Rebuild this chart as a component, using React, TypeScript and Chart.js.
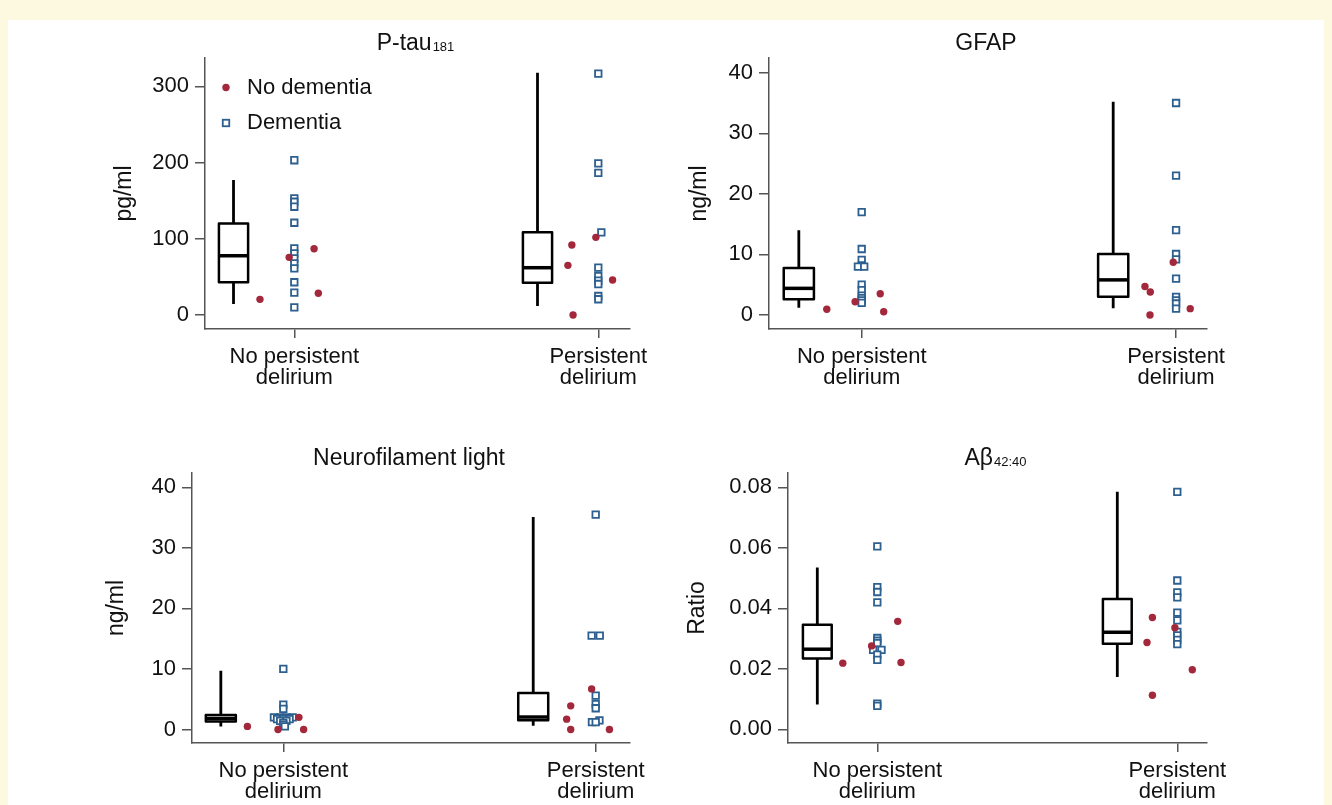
import React, { useEffect, useRef } from "react";
import { Chart, registerables } from "chart.js";

Chart.register(...registerables);

const FONT = '"Liberation Sans", Arial, Helvetica, sans-serif';
const RED = "#a3283b";
const BLUE = "#2d5f8f";
const AXIS = "#555555";
const TEXT = "#111111";

// ---------- shared labels ----------
const xCategoryLabels = [["No persistent", "delirium"], ["Persistent", "delirium"]];
const legendLabels = ["No dementia", "Dementia"];

// ---------- P-tau181 ----------
const ptauTitle = "P-tau";
const ptauSub = "181";
const ptauUnit = "pg/ml";
const ptauTicks = [0, 100, 200, 300];
// [whisker low, Q1, median, Q3, whisker high]
const ptauBoxNoPers = [14.4, 42.8, 77.7, 120, 177];
const ptauBoxPers = [11.8, 42.4, 62, 108.4, 317.6];
const ptauRedNoPers = [20.5, 75.6, 86.9, 28.4];
const ptauRedNoPersJit = [-0.113, -0.017, 0.065, 0.079];
const ptauRedPers = [91.7, 65.1, 101.8, 45.9, 0];
const ptauRedPersJit = [-0.087, -0.1, -0.008, 0.047, -0.083];
const ptauBlueNoPers = [203, 153, 148.5, 142, 121, 87.4, 80.9, 74.3, 67.8, 61.2, 42.9, 29.2, 10.0];
const ptauBlueNoPersJit = [0, 0, 0, 0, 0, 0, 0, 0, 0, 0, 0, 0, 0];
const ptauBluePers = [316.7, 198.8, 186.5, 108.4, 62, 51.1, 45, 40.6, 24.9, 20.6];
const ptauBluePersJit = [0, 0, 0, 0.01, 0, 0, 0, 0, 0, 0];

// ---------- GFAP ----------
const gfapTitle = "GFAP";
const gfapSub = "";
const gfapUnit = "ng/ml";
const gfapTicks = [0, 10, 20, 30, 40];
const gfapBoxNoPers = [1.2, 2.6, 4.4, 7.76, 14.0];
const gfapBoxPers = [1.1, 3.0, 5.8, 10.07, 35.2];
const gfapRedNoPers = [0.94, 2.2, 3.5, 0.55];
const gfapRedNoPersJit = [-0.111, -0.021, 0.059, 0.07];
const gfapRedPers = [4.7, 3.8, 0, 8.7, 1.05];
const gfapRedPersJit = [-0.099, -0.082, -0.083, -0.009, 0.045];
const gfapBlueNoPers = [17.0, 10.9, 9.1, 8.2, 8.0, 8.0, 5.0, 4.1, 3.2, 2.8, 2.4, 2.0];
const gfapBlueNoPersJit = [0, 0, 0, 0, -0.012, 0.008, 0, 0, 0, 0, 0, 0];
const gfapBluePers = [35.0, 23.0, 14.0, 10.07, 9.2, 6.0, 3.0, 2.4, 1.9, 1.05];
const gfapBluePersJit = [0, 0, 0, 0, 0, 0, 0, 0, 0, 0];

// ---------- Neurofilament light ----------
const nflTitle = "Neurofilament light";
const nflSub = "";
const nflUnit = "ng/ml";
const nflTicks = [0, 10, 20, 30, 40];
const nflBoxNoPers = [0.5, 1.3, 1.8, 2.4, 9.7];
const nflBoxPers = [0.6, 1.5, 2.05, 6.0, 35.1];
const nflRedNoPers = [0.5, 0, 2.0, 0];
const nflRedNoPersJit = [-0.115, -0.017, 0.05, 0.065];
const nflRedPers = [3.9, 1.7, 0, 6.7, 0];
const nflRedPersJit = [-0.08, -0.093, -0.08, -0.013, 0.044];
const nflBlueNoPers = [10.0, 4.1, 3.4, 2.0, 2.0, 2.0, 2.0, 1.7, 1.7, 1.7, 1.4, 1.4, 1.1, 0.8, 0.5];
const nflBlueNoPersJit = [0, 0, 0, -0.03, -0.01, 0.01, 0.03, -0.02, 0, 0.02, -0.01, 0.01, 0, 0, 0.005];
const nflBluePers = [35.5, 15.5, 15.5, 5.6, 4.2, 3.5, 1.5, 1.2, 1.2];
const nflBluePersJit = [0, -0.013, 0.013, 0, 0, 0, 0.012, -0.012, 0];

// ---------- Abeta 42:40 ----------
const abTitle = "A\u03b2";
const abSub = "42:40";
const abUnit = "Ratio";
const abTicks = [0, 0.02, 0.04, 0.06, 0.08];
const abBoxNoPers = [0.0082, 0.0234, 0.0265, 0.0346, 0.0535];
const abBoxPers = [0.0173, 0.0283, 0.0321, 0.0431, 0.0785];
const abRedNoPers = [0.0219, 0.0276, 0.0357, 0.0221];
const abRedNoPersJit = [-0.115, -0.019, 0.068, 0.079];
const abRedPers = [0.037, 0.0287, 0.0113, 0.0336, 0.0197];
const abRedPersJit = [-0.083, -0.101, -0.083, -0.008, 0.05];
const abBlueNoPers = [0.0605, 0.047, 0.0454, 0.042, 0.0302, 0.0293, 0.0285, 0.0263, 0.0263, 0.0247, 0.023, 0.0085, 0.0078];
const abBlueNoPersJit = [0, 0, 0, 0, 0, 0, 0, -0.014, 0.014, 0, 0, 0, 0];
const abBluePers = [0.0785, 0.0492, 0.0453, 0.0436, 0.0386, 0.036, 0.0322, 0.0311, 0.0296, 0.0282];
const abBluePersJit = [0, 0, 0, 0, 0, 0, 0, 0, 0, 0];

// ---------- layout constants ----------
const AXIS_W = 110;
const PAD_T = 50;
const PAD_R = 60;
const XAXIS_H = 70;
const BOX_OFFSET = -0.2;
const BOX_HALF = 0.048;

type PanelData = {
  title: string;
  sub: string;
  unit: string;
  ticks: number[];
  decimals: number;
  boxes: number[][];
  red: number[][];
  redJit: number[][];
  blue: number[][];
  blueJit: number[][];
  legend: boolean;
};

type PanelGeom = {
  L: number; T: number; R: number; B: number;
  xMin: number; xMax: number; yMin: number; yMax: number;
  yTitleX: number;
};

const panels: { d: PanelData; g: PanelGeom }[] = [
  {
    d: {
      title: ptauTitle, sub: ptauSub, unit: ptauUnit, ticks: ptauTicks, decimals: 0,
      boxes: [ptauBoxNoPers, ptauBoxPers],
      red: [ptauRedNoPers, ptauRedPers], redJit: [ptauRedNoPersJit, ptauRedPersJit],
      blue: [ptauBlueNoPers, ptauBluePers], blueJit: [ptauBlueNoPersJit, ptauBluePersJit],
      legend: true,
    },
    g: { L: 205, T: 58, R: 630, B: 329, xMin: -0.2938, xMax: 1.1043, yMin: -18.4, yMax: 337.1, yTitleX: 125 },
  },
  {
    d: {
      title: gfapTitle, sub: gfapSub, unit: gfapUnit, ticks: gfapTicks, decimals: 0,
      boxes: [gfapBoxNoPers, gfapBoxPers],
      red: [gfapRedNoPers, gfapRedPers], redJit: [gfapRedNoPersJit, gfapRedPersJit],
      blue: [gfapBlueNoPers, gfapBluePers], blueJit: [gfapBlueNoPersJit, gfapBluePersJit],
      legend: false,
    },
    g: { L: 769, T: 58, R: 1207, B: 329, xMin: -0.2949, xMax: 1.0984, yMin: -2.31, yMax: 42.43, yTitleX: 700 },
  },
  {
    d: {
      title: nflTitle, sub: nflSub, unit: nflUnit, ticks: nflTicks, decimals: 0,
      boxes: [nflBoxNoPers, nflBoxPers],
      red: [nflRedNoPers, nflRedPers], redJit: [nflRedNoPersJit, nflRedPersJit],
      blue: [nflBlueNoPers, nflBluePers], blueJit: [nflBlueNoPersJit, nflBluePersJit],
      legend: false,
    },
    g: { L: 192, T: 473, R: 630, B: 743, xMin: -0.2923, xMax: 1.1098, yMin: -2.24, yMax: 42.36, yTitleX: 117 },
  },
  {
    d: {
      title: abTitle, sub: abSub, unit: abUnit, ticks: abTicks, decimals: 2,
      boxes: [abBoxNoPers, abBoxPers],
      red: [abRedNoPers, abRedPers], redJit: [abRedNoPersJit, abRedPersJit],
      blue: [abBlueNoPers, abBluePers], blueJit: [abBlueNoPersJit, abBluePersJit],
      legend: false,
    },
    g: { L: 788, T: 473, R: 1207, B: 743, xMin: -0.2977, xMax: 1.099, yMin: -0.00449, yMax: 0.08472, yTitleX: 698 },
  },
];

function makePlugin(d: PanelData) {
  return {
    id: "boxAndTitle",
    beforeDatasetsDraw(chart: any) {
      const { ctx, scales } = chart;
      const x = scales.x;
      const y = scales.y;
      ctx.save();
      ctx.strokeStyle = "#000";
      ctx.lineJoin = "round";
      d.boxes.forEach((b, c) => {
        const cx = x.getPixelForValue(c + BOX_OFFSET);
        const hw = x.getPixelForValue(c + BOX_OFFSET + BOX_HALF) - cx;
        const [mn, q1, med, q3, mx] = b.map((v) => y.getPixelForValue(v));
        ctx.lineWidth = 2.8;
        ctx.beginPath();
        ctx.moveTo(cx, q3);
        ctx.lineTo(cx, mx);
        ctx.moveTo(cx, q1);
        ctx.lineTo(cx, mn);
        ctx.stroke();
        ctx.lineWidth = 2.5;
        ctx.strokeRect(cx - hw, q3, 2 * hw, q1 - q3);
        ctx.lineWidth = 3.5;
        ctx.beginPath();
        ctx.moveTo(cx - hw, med);
        ctx.lineTo(cx + hw, med);
        ctx.stroke();
      });
      ctx.restore();
    },
    afterDraw(chart: any) {
      const { ctx, chartArea } = chart;
      ctx.save();
      const mainFont = `23px ${FONT}`;
      const subFont = `13px ${FONT}`;
      ctx.font = mainFont;
      const w1 = ctx.measureText(d.title).width;
      ctx.font = subFont;
      const w2 = d.sub ? ctx.measureText(d.sub).width + 1 : 0;
      const cx = (chartArea.left + chartArea.right) / 2 - 2;
      const by = chartArea.top - 8;
      const x0 = cx - (w1 + w2) / 2;
      ctx.fillStyle = TEXT;
      ctx.textAlign = "left";
      ctx.textBaseline = "alphabetic";
      ctx.font = mainFont;
      ctx.fillText(d.title, x0, by);
      if (d.sub) {
        ctx.font = subFont;
        ctx.fillText(d.sub, x0 + w1 + 1, by + 1);
      }
      if (d.legend) {
        const lx = chartArea.left + 21;
        const y1 = chartArea.top + 29.5;
        const y2 = chartArea.top + 65;
        ctx.fillStyle = RED;
        ctx.beginPath();
        ctx.arc(lx, y1, 3.7, 0, Math.PI * 2);
        ctx.fill();
        ctx.fillStyle = "#fff";
        ctx.strokeStyle = BLUE;
        ctx.lineWidth = 1.8;
        ctx.fillRect(lx - 3.25, y2 - 3.25, 6.5, 6.5);
        ctx.strokeRect(lx - 3.25, y2 - 3.25, 6.5, 6.5);
        ctx.fillStyle = TEXT;
        ctx.font = `22px ${FONT}`;
        ctx.textBaseline = "middle";
        ctx.fillText(legendLabels[0], chartArea.left + 42, y1);
        ctx.fillText(legendLabels[1], chartArea.left + 42, y2);
      }
      ctx.restore();
    },
  };
}

function Panel({ d, g }: { d: PanelData; g: PanelGeom }) {
  const ref = useRef<HTMLCanvasElement>(null);
  const W = g.R - g.L + AXIS_W + PAD_R;
  const H = PAD_T + (g.B - g.T) + XAXIS_H;
  useEffect(() => {
    if (!ref.current) return;
    const redData = d.red.flatMap((vals, c) => vals.map((v, i) => ({ x: c + d.redJit[c][i], y: v })));
    const blueData = d.blue.flatMap((vals, c) => vals.map((v, i) => ({ x: c + d.blueJit[c][i], y: v })));
    const titlePad = g.yTitleX - (g.L - AXIS_W) - (23 * 1.2) / 2;
    const chart = new Chart(ref.current, {
      type: "scatter",
      data: {
        datasets: [
          {
            label: legendLabels[0],
            data: redData,
            pointStyle: "circle",
            pointRadius: 3.7,
            pointBackgroundColor: RED,
            pointBorderColor: RED,
            pointBorderWidth: 0,
          },
          {
            label: legendLabels[1],
            data: blueData,
            pointStyle: "rect",
            pointRadius: 4.6,
            pointBackgroundColor: "#ffffff",
            pointBorderColor: BLUE,
            pointBorderWidth: 1.8,
          },
        ],
      } as any,
      options: {
        animation: false,
        responsive: false,
        devicePixelRatio: 1,
        events: [],
        layout: { padding: { top: PAD_T, right: PAD_R, left: 0, bottom: 0 } },
        plugins: {
          legend: { display: false },
          tooltip: { enabled: false },
          title: { display: false },
        },
        scales: {
          x: {
            type: "linear",
            min: g.xMin,
            max: g.xMax,
            afterBuildTicks: (ax: any) => {
              ax.ticks = [0, 1].map((v) => ({ value: v }));
            },
            afterFit: (ax: any) => {
              ax.height = XAXIS_H;
            },
            ticks: {
              callback: (v: any) => xCategoryLabels[Math.round(Number(v))],
              font: { family: FONT, size: 22, lineHeight: 0.97 },
              color: TEXT,
              padding: 8,
              maxRotation: 0,
              autoSkip: false,
            },
            grid: { drawOnChartArea: false, drawTicks: true, tickLength: 9, color: AXIS, lineWidth: 1.5 },
            border: { display: true, color: AXIS, width: 1.5 },
          },
          y: {
            type: "linear",
            min: g.yMin,
            max: g.yMax,
            afterBuildTicks: (ax: any) => {
              ax.ticks = d.ticks.map((v) => ({ value: v }));
            },
            afterFit: (ax: any) => {
              ax.width = AXIS_W;
            },
            ticks: {
              callback: (v: any) => Number(v).toFixed(d.decimals),
              font: { family: FONT, size: 22 },
              color: TEXT,
              padding: 6,
            },
            grid: { drawOnChartArea: false, drawTicks: true, tickLength: 10, color: AXIS, lineWidth: 1.5 },
            border: { display: true, color: AXIS, width: 1.5 },
            title: {
              display: true,
              text: d.unit,
              font: { family: FONT, size: 23, lineHeight: 1.2 },
              color: TEXT,
              padding: { top: titlePad, bottom: 0 },
            },
          },
        },
      } as any,
      plugins: [makePlugin(d)],
    });
    return () => chart.destroy();
  }, []);
  return (
    <canvas
      ref={ref}
      width={W}
      height={H}
      style={{ position: "absolute", left: g.L - AXIS_W, top: g.T - PAD_T, width: W, height: H }}
    />
  );
}

export default function App() {
  return (
    <div
      style={{
        position: "fixed",
        left: 0,
        top: 0,
        width: 1332,
        height: 805,
        background: "#fdf8e0",
        overflow: "hidden",
        fontFamily: FONT,
      }}
    >
      <div style={{ position: "absolute", left: 8, top: 20, width: 1316, height: 800, background: "#ffffff" }} />
      {panels.map((p, i) => (
        <Panel key={i} d={p.d} g={p.g} />
      ))}
    </div>
  );
}
